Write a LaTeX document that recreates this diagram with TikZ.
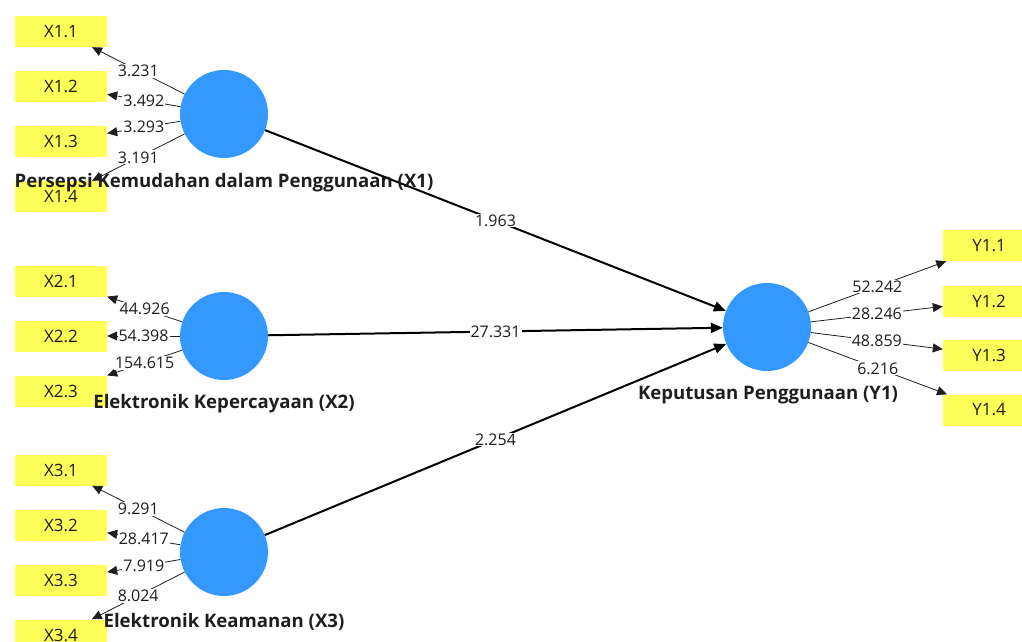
\documentclass[tikz,border=0pt]{standalone}
\usepackage{fontspec}
\setmainfont{Open Sans}
\usetikzlibrary{arrows.meta}
\definecolor{lvblue}{RGB}{51,153,255}
\definecolor{mvyellow}{RGB}{255,255,90}
\definecolor{txt}{RGB}{30,30,30}
\begin{document}
\begin{tikzpicture}[x=1pt,y=-1pt,
  lv/.style={circle,fill=lvblue,minimum size=88pt,inner sep=0pt},
  mv/.style={rectangle,fill=mvyellow,minimum width=92pt,minimum height=31pt,inner sep=0pt,text=txt,font=\fontsize{17}{17}\selectfont},
  lvlabel/.style={font=\bfseries\fontsize{18.6}{18.6}\selectfont,inner sep=0pt,text=txt},
  loadarrow/.style={-{Triangle[length=10pt,width=9pt]},line width=0.8pt,draw=txt},
  structarrow/.style={-{Triangle[length=12pt,width=10pt]},line width=2pt,draw=black},
  val/.style={fill=white,inner sep=1pt,text=txt,font=\fontsize{16}{16}\selectfont}
]
\useasboundingbox (0,0) rectangle (1022,642);
\clip (0,0) rectangle (1022,642);
% indicators
\node[mv] (x11) at (61,31.5) {X1.1};
\node[mv] (x12) at (61,86.5) {X1.2};
\node[mv] (x13) at (61,141) {X1.3};
\node[mv] (x14) at (61,196.5) {X1.4};
\node[mv] (x21) at (61,281) {X2.1};
\node[mv] (x22) at (61,336) {X2.2};
\node[mv] (x23) at (61,391) {X2.3};
\node[mv] (x31) at (61,470) {X3.1};
\node[mv] (x32) at (61,525) {X3.2};
\node[mv] (x33) at (61,580) {X3.3};
\node[mv] (x34) at (61,635) {X3.4};
\node[mv] (y11) at (989,245.5) {Y1.1};
\node[mv] (y12) at (989,301) {Y1.2};
\node[mv] (y13) at (989,355) {Y1.3};
\node[mv] (y14) at (989,410) {Y1.4};
% latent variables
\node[lv] (X1) at (224,114) {};
\node[lv] (X2) at (224,336) {};
\node[lv] (X3) at (224,552) {};
\node[lv] (Y1) at (767,327) {};
% outer loadings
\draw[loadarrow] (X1) -- node[val]{3.231} (x11);
\draw[loadarrow] (X1) -- node[val]{3.492} (x12);
\draw[loadarrow] (X1) -- node[val]{3.293} (x13);
\draw[loadarrow] (X1) -- node[val]{3.191} (x14);
\draw[loadarrow] (X2) -- node[val]{44.926} (x21);
\draw[loadarrow] (X2) -- node[val]{54.398} (x22);
\draw[loadarrow] (X2) -- node[val]{154.615} (x23);
\draw[loadarrow] (X3) -- node[val]{9.291} (x31);
\draw[loadarrow] (X3) -- node[val]{28.417} (x32);
\draw[loadarrow] (X3) -- node[val]{7.919} (x33);
\draw[loadarrow] (X3) -- node[val]{8.024} (x34);
\draw[loadarrow] (Y1) -- node[val]{52.242} (y11);
\draw[loadarrow] (Y1) -- node[val]{28.246} (y12);
\draw[loadarrow] (Y1) -- node[val]{48.859} (y13);
\draw[loadarrow] (Y1) -- node[val]{6.216} (y14);
% structural paths
\draw[structarrow] (X1) -- node[val]{1.963} (Y1);
\draw[structarrow] (X2) -- node[val]{27.331} (Y1);
\draw[structarrow] (X3) -- node[val]{2.254} (Y1);
% latent labels
\node[lvlabel] (lx1) at (224,183) {Persepsi Kemudahan dalam Penggunaan (X1)};
\node[lvlabel] (lx2) at (224,404) {Elektronik Kepercayaan (X2)};
\node[lvlabel] (lx3) at (224,622) {Elektronik Keamanan (X3)};
\node[lvlabel] (ly1) at (768,395) {Keputusan Penggunaan (Y1)};
\end{tikzpicture}
\end{document}
